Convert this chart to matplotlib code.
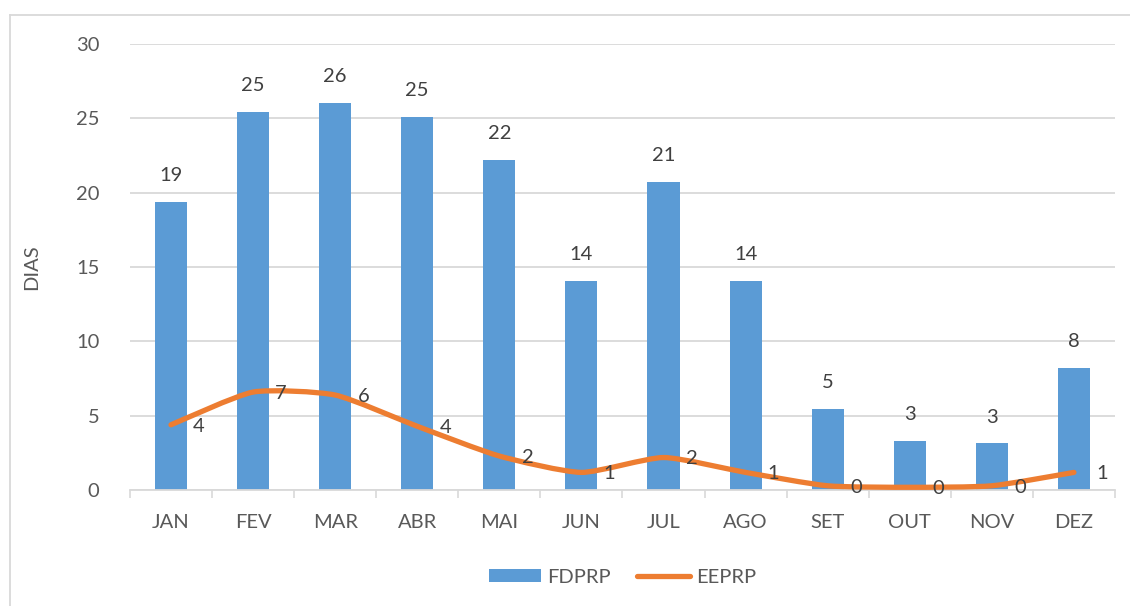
import matplotlib
matplotlib.use("Agg")
import numpy as np
from matplotlib import pyplot as plt
from matplotlib.path import Path
from matplotlib.patches import PathPatch
from matplotlib.lines import Line2D

plt.rcParams['font.family'] = ['Lato', 'DejaVu Sans']

meses = ['JAN', 'FEV', 'MAR', 'ABR', 'MAI', 'JUN', 'JUL', 'AGO', 'SET', 'OUT', 'NOV', 'DEZ']
fdprp = [19.35, 25.45, 26.05, 25.1, 22.2, 14.05, 20.7, 14.05, 5.45, 3.3, 3.15, 8.2]
eeprp = [4.4, 6.6, 6.4, 4.3, 2.3, 1.2, 2.2, 1.2, 0.3, 0.2, 0.3, 1.2]

azul = '#5b9bd5'
laranja = '#ed7d31'
cinza = '#d9d9d9'
texto = '#595959'


def curva_suave(xs, ys, t=0.1):
    # bezier cubica passando pelos pontos (linha suavizada)
    verts = [(xs[0], ys[0])]
    codes = [Path.MOVETO]
    n = len(xs)
    for i in range(n - 1):
        x0, y0 = xs[max(i - 1, 0)], ys[max(i - 1, 0)]
        x1, y1 = xs[i], ys[i]
        x2, y2 = xs[i + 1], ys[i + 1]
        x3, y3 = xs[min(i + 2, n - 1)], ys[min(i + 2, n - 1)]
        c1 = (x1 + (x2 - x0) * t, y1 + (y2 - y0) * t)
        c2 = (x2 - (x3 - x1) * t, y2 - (y3 - y1) * t)
        verts += [c1, c2, (x2, y2)]
        codes += [Path.CURVE4] * 3
    return Path(verts, codes)


fig = plt.figure(figsize=(11.3, 6.06), dpi=100)
ax = fig.add_axes([0.115, 0.191, 0.8717, 0.7365])

x = np.arange(len(meses))
barras = ax.bar(x, fdprp, width=0.39, color=azul, zorder=2, label='FDPRP')

patch = PathPatch(curva_suave(x, eeprp), facecolor='none', edgecolor=laranja,
                  lw=3.8, capstyle='round', joinstyle='round', zorder=3)
ax.add_patch(patch)

fs = 14.5
for xi, v in zip(x, fdprp):
    ax.annotate(f'{v:.0f}', (xi, v), xytext=(0, 19), textcoords='offset points',
                ha='center', va='center', fontsize=fs, color='#404040')
for xi, v in zip(x, eeprp):
    ax.annotate(f'{v:.0f}', (xi, v), xytext=(16, -1), textcoords='offset points',
                ha='left', va='center', fontsize=fs, color='#404040', zorder=4)

ax.set_xlim(-0.5, len(meses) - 0.5)
ax.set_ylim(0, 30)
ax.set_yticks(range(0, 31, 5))
ax.yaxis.grid(True, color=cinza, lw=1.3)
ax.set_axisbelow(True)

ax.set_xticks(x)
ax.set_xticklabels(meses)
ax.set_xticks(np.arange(-0.5, len(meses)), minor=True)
ax.tick_params(axis='x', which='major', length=0, pad=17, labelsize=fs, labelcolor=texto)
ax.tick_params(axis='x', which='minor', length=6, width=1.2, color=cinza)
ax.tick_params(axis='y', length=0, pad=22, labelsize=fs, labelcolor=texto)
for lado in ['top', 'right', 'left']:
    ax.spines[lado].set_visible(False)
ax.spines['bottom'].set_color(cinza)
ax.spines['bottom'].set_linewidth(1.3)

ax.set_ylabel('DIAS', fontsize=fs, color=texto, labelpad=26)

leg_linha = Line2D([], [], color=laranja, lw=3.8, solid_capstyle='round')
ax.legend([barras, leg_linha], ['FDPRP', 'EEPRP'], loc='center',
          bbox_to_anchor=(0.5, -0.195), ncol=2, frameon=False, fontsize=fs,
          labelcolor=texto, handlelength=2.6, handleheight=0.65, columnspacing=1.3,
          handletextpad=0.3)

# moldura da area do grafico
fig.add_artist(Line2D([9.5 / 1130, 9.5 / 1130], [0, 1 - 15 / 606], color=cinza, lw=1.3,
                      transform=fig.transFigure))
fig.add_artist(Line2D([9.5 / 1130, 1], [1 - 15 / 606, 1 - 15 / 606], color=cinza, lw=1.3,
                      transform=fig.transFigure))

fig.savefig('out.png', dpi=100)
